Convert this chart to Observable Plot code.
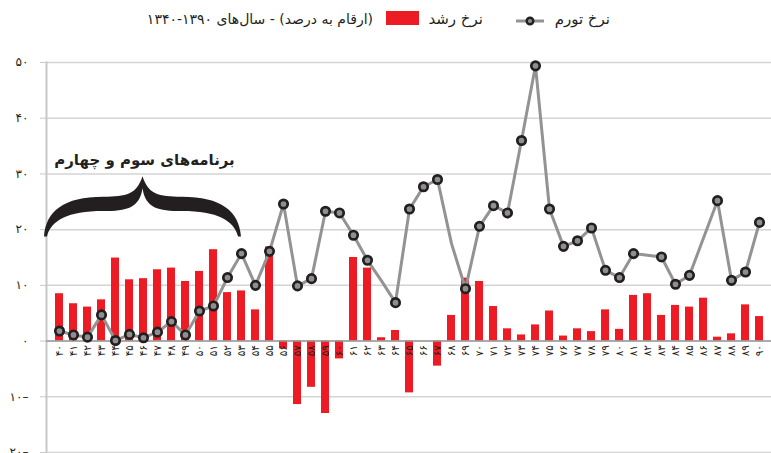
<!DOCTYPE html>
<html><head><meta charset="utf-8">
<script src="https://cdn.jsdelivr.net/npm/d3@7"></script>
<script src="https://cdn.jsdelivr.net/npm/@observablehq/plot@0.6"></script>
<style>
body{margin:0;background:#fff;font-family:"DejaVu Sans",sans-serif;color:#231f20}
#wrap{position:relative;width:771px;height:453px;overflow:hidden}
.lg{position:absolute;direction:rtl;white-space:nowrap;line-height:20px;color:#231f20}
#wrap svg.chart{position:absolute;left:0;top:0}
</style></head><body><div id="wrap"></div>
<script>
// ---- data ----
const years = [1340,1341,1342,1343,1344,1345,1346,1347,1348,1349,1350,1351,1352,1353,1354,1355,1356,1357,1358,1359,1360,1361,1362,1363,1364,1365,1366,1367,1368,1369,1370,1371,1372,1373,1374,1375,1376,1377,1378,1379,1380,1381,1382,1383,1384,1385,1386,1387,1388,1389,1390];
const xLabels = ["۴۰","۴۱","۴۲","۴۳","۴۴","۴۵","۴۶","۴۷","۴۸","۴۹","۵۰","۵۱","۵۲","۵۳","۵۴","۵۵","۵۶","۵۷","۵۸","۵۹","۶۰","۶۱","۶۲","۶۳","۶۴","۶۵","۶۶","۶۷","۶۸","۶۹","۷۰","۷۱","۷۲","۷۳","۷۴","۷۵","۷۶","۷۷","۷۸","۷۹","۸۰","۸۱","۸۲","۸۳","۸۴","۸۵","۸۶","۸۷","۸۸","۸۹","۹۰"];
// growth rate (نرخ رشد), %
const growth = [8.5,6.7,6.1,7.4,14.9,11.0,11.2,12.8,13.1,10.7,12.5,16.4,8.7,9.0,5.6,16.9,-1.4,-11.4,-8.3,-13.0,-3.2,15.0,13.1,0.6,1.9,-9.3,0,-4.5,4.6,11.3,10.7,6.2,2.2,1.1,2.9,5.4,0.9,2.2,1.7,5.6,2.1,8.2,8.5,4.6,6.4,6.1,7.7,0.7,1.3,6.5,4.4];
// inflation rate (نرخ تورم), %
const inflation = [1.8,1.1,0.7,4.7,0.1,1.2,0.6,1.6,3.5,1.1,5.4,6.3,11.4,15.7,10.0,16.1,24.6,9.9,11.2,23.3,23.0,19.0,14.5,10.8,6.9,23.7,27.7,29.0,17.5,9.4,20.6,24.3,23.0,36.0,49.4,23.7,17.0,18.0,20.3,12.7,11.4,15.7,15.4,15.1,10.2,11.8,18.5,25.2,10.9,12.4,21.3];
const noMarkerYears = [1363,1368,1382,1386];
const yTicks = [-20,-10,0,10,20,30,40,50];
const yTickLabels = ["۲۰–","۱۰–","۰","۱۰","۲۰","۳۰","۴۰","۵۰"];
const annotationText = "برنامه‌های سوم و چهارم";
const braceYears = [1340, 1353];   // span of the brace (first band minus one step .. last)
const braceRange = [18.7, 29.5];   // brace ends .. tip (value units)
const legendGrowth = "نرخ رشد";
const legendInflation = "نرخ تورم";
const legendNote = "(ارقام به درصد) - سال‌های ۱۳۹۰-۱۳۴۰";

// ---- tables ----
const rows = years.map((y, i) => ({year: y, label: xLabels[i], growth: growth[i], inflation: inflation[i]}));
const dotRows = rows.filter(d => !noMarkerYears.includes(d.year));

const RED = "#ed1c24", LINE = "#939393", DARK = "#231f20";

function braceMark(index, scales) {
  const x = scales.x, y = scales.y;
  const bw = x.bandwidth ? x.bandwidth() : 0;
  const step = x(years[1]) - x(years[0]);
  const L = x(braceYears[0]) + bw / 2 - step - 1;
  const R = x(braceYears[1]) + bw / 2;
  const yb = y(braceRange[0]), yt = y(braceRange[1]);
  const w = R - L, h = yb - yt;
  const P = (u, v) => `${(L + u * w).toFixed(2)},${(yb - v * h).toFixed(2)}`;
  const d = `M${P(0,0)} C${P(0.01,0.42)} ${P(0.1,0.66)} ${P(0.3,0.66)} C${P(0.42,0.66)} ${P(0.47,0.7)} ${P(0.5,1)} ` +
            `C${P(0.53,0.7)} ${P(0.58,0.66)} ${P(0.7,0.66)} C${P(0.9,0.66)} ${P(0.99,0.42)} ${P(1,0)} ` +
            `L${P(0.985,0)} C${P(0.965,0.26)} ${P(0.88,0.42)} ${P(0.7,0.42)} C${P(0.58,0.42)} ${P(0.515,0.47)} ${P(0.5,0.8)} ` +
            `C${P(0.485,0.47)} ${P(0.42,0.42)} ${P(0.3,0.42)} C${P(0.12,0.42)} ${P(0.035,0.26)} ${P(0.015,0)} Z`;
  const g = d3.create("svg:g");
  g.append("path").attr("d", d).attr("fill", DARK);
  return g.node();
}

const chart = Plot.plot({
  width: 771,
  height: 453,
  marginTop: 62,
  marginBottom: 1,
  marginLeft: 46,
  marginRight: 0,
  style: {fontFamily: "DejaVu Sans, sans-serif", background: "transparent", color: DARK},
  x: {type: "band", domain: years, paddingInner: 0.45, paddingOuter: 0.2, axis: null},
  y: {domain: [-20, 50]},
  marks: [
    Plot.gridY(yTicks, {stroke: "#d4d4d4", strokeOpacity: 1, strokeWidth: 1.5}),
    Plot.axisY(yTicks, {tickFormat: (d) => yTickLabels[yTicks.indexOf(d)], tickSize: 6, tickPadding: 12,
      stroke: "#c8c8c8", fontSize: 12, label: null}),
    Plot.frame({anchor: "left", stroke: "#c8c8c8", strokeWidth: 2}),
    Plot.barY(rows, {x: "year", y: "growth", fill: RED}),
    Plot.ruleY([0], {stroke: "#9a9a9a", strokeWidth: 1.5}),
    Plot.text(rows, {x: "year", y: () => 0, text: "label", rotate: -90, textAnchor: "end", dy: 4, fontSize: 10.5, fill: DARK}),
    Plot.line(rows, {x: "year", y: "inflation", stroke: LINE, strokeWidth: 3}),
    Plot.dot(dotRows, {x: "year", y: "inflation", r: 4.2, fill: "#8f8f8f", stroke: DARK, strokeWidth: 2.7}),
    braceMark,
    Plot.text([annotationText], {x: () => 1346, y: () => 32.5, text: d => d, dx: 1, fontSize: 15, fontWeight: "bold", fill: DARK})
  ]
});
chart.classList.add("chart");
const wrap = document.getElementById("wrap");
wrap.appendChild(chart);

// ---- legend (HTML above the SVG) ----
function span(text, css) {
  const s = document.createElement("div");
  s.className = "lg";
  s.textContent = text;
  Object.assign(s.style, css);
  wrap.appendChild(s);
  return s;
}
span(legendInflation, {right: "161px", top: "9px", fontSize: "15px"});
span(legendGrowth, {right: "288px", top: "9px", fontSize: "15px"});
span(legendNote, {right: "398px", top: "9px", fontSize: "14px"});
const box = document.createElement("div");
Object.assign(box.style, {position: "absolute", left: "386px", top: "11px", width: "33px", height: "14px", background: RED});
wrap.appendChild(box);
const sample = d3.create("svg").attr("width", 32).attr("height", 14)
  .style("position", "absolute").style("left", "514px").style("top", "14px");
sample.append("line").attr("x1", 2).attr("x2", 30).attr("y1", 7).attr("y2", 7).attr("stroke", LINE).attr("stroke-width", 3);
sample.append("circle").attr("cx", 16).attr("cy", 7).attr("r", 3.3).attr("fill", "#8f8f8f").attr("stroke", DARK).attr("stroke-width", 2.4);
wrap.appendChild(sample.node());
</script></body></html>
